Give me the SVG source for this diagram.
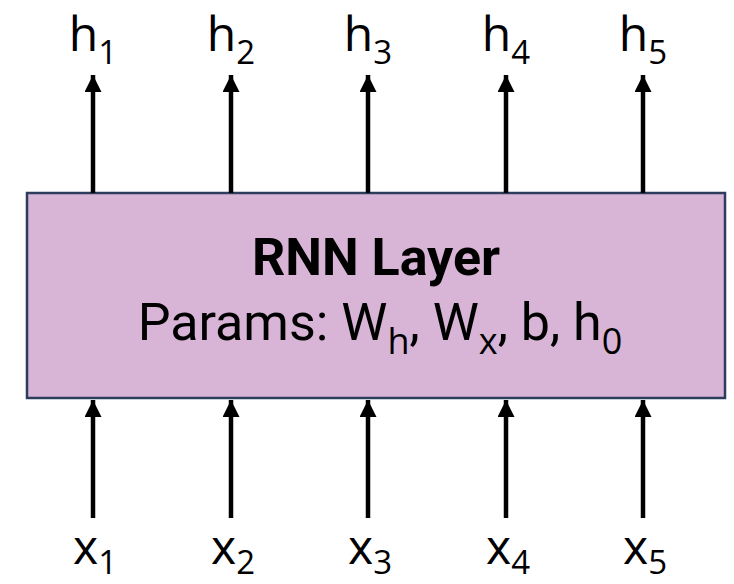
<svg xmlns="http://www.w3.org/2000/svg" width="734" height="584" viewBox="0 0 734 584">
  <style>
    .lbl { font-family: "Open Sans", "Noto Sans", sans-serif; font-size: 48px; fill: #000; }
    .sub { font-size: 33px; }
    .title { font-family: Roboto, "Liberation Sans", sans-serif; font-size: 52px; font-weight: bold; fill: #000; }
    .params { font-family: Roboto, "Liberation Sans", sans-serif; font-size: 52px; fill: #000; }
    .psub { font-family: "Open Sans", "Noto Sans", sans-serif; font-size: 36px; }
    .box { fill: #d8b4d6; stroke: #2c3d5e; stroke-width: 2.5; }
    .arrow { stroke: #000; stroke-width: 4.5; fill: none; marker-end: url(#head); }
  </style>
  <defs>
    <marker id="head" markerUnits="userSpaceOnUse" markerWidth="18" markerHeight="18" refX="17" refY="8.5" orient="auto">
      <path d="M0,0 L17,8.5 L0,17 Z" fill="#000"/>
    </marker>
  </defs>

  <rect width="734" height="584" fill="#fff"/>

  <!-- RNN layer block -->
  <g id="rnn-layer">
    <rect class="box" x="27" y="193" width="698" height="205"/>
    <text class="title" x="376" y="275" text-anchor="middle">RNN Layer</text>
    <text class="params" x="380" y="340" text-anchor="middle">Params: W<tspan class="psub" dy="14">h</tspan><tspan dy="-14">, W</tspan><tspan class="psub" dy="14">x</tspan><tspan dy="-14">, b, h</tspan><tspan class="psub" dy="14">0</tspan></text>
  </g>

  <!-- connectors: inputs up into the layer, outputs up out of it -->
  <g id="connectors">
    <line class="arrow" x1="93" y1="518" x2="93" y2="400"/>
    <line class="arrow" x1="231" y1="518" x2="231" y2="400"/>
    <line class="arrow" x1="368" y1="518" x2="368" y2="400"/>
    <line class="arrow" x1="506" y1="518" x2="506" y2="400"/>
    <line class="arrow" x1="643" y1="518" x2="643" y2="400"/>

    <line class="arrow" x1="93" y1="193" x2="93" y2="75"/>
    <line class="arrow" x1="231" y1="193" x2="231" y2="75"/>
    <line class="arrow" x1="368" y1="193" x2="368" y2="75"/>
    <line class="arrow" x1="506" y1="193" x2="506" y2="75"/>
    <line class="arrow" x1="643" y1="193" x2="643" y2="75"/>
  </g>

  <!-- outputs -->
  <g id="h1"><text class="lbl" x="93" y="51" text-anchor="middle">h<tspan class="sub" dy="13">1</tspan></text></g>
  <g id="h2"><text class="lbl" x="231" y="51" text-anchor="middle">h<tspan class="sub" dy="13">2</tspan></text></g>
  <g id="h3"><text class="lbl" x="368" y="51" text-anchor="middle">h<tspan class="sub" dy="13">3</tspan></text></g>
  <g id="h4"><text class="lbl" x="506" y="51" text-anchor="middle">h<tspan class="sub" dy="13">4</tspan></text></g>
  <g id="h5"><text class="lbl" x="643" y="51" text-anchor="middle">h<tspan class="sub" dy="13">5</tspan></text></g>

  <!-- inputs -->
  <g id="x1"><text class="lbl" x="95" y="564" text-anchor="middle">x<tspan class="sub" dy="10">1</tspan></text></g>
  <g id="x2"><text class="lbl" x="233" y="564" text-anchor="middle">x<tspan class="sub" dy="10">2</tspan></text></g>
  <g id="x3"><text class="lbl" x="370" y="564" text-anchor="middle">x<tspan class="sub" dy="10">3</tspan></text></g>
  <g id="x4"><text class="lbl" x="508" y="564" text-anchor="middle">x<tspan class="sub" dy="10">4</tspan></text></g>
  <g id="x5"><text class="lbl" x="645" y="564" text-anchor="middle">x<tspan class="sub" dy="10">5</tspan></text></g>
</svg>
